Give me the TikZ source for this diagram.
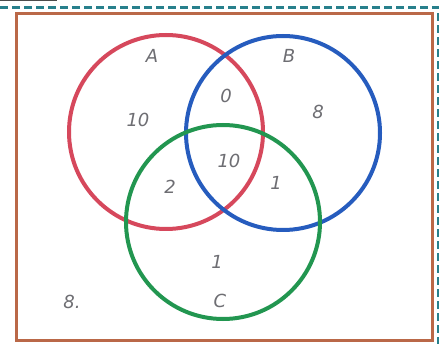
\documentclass[tikz,border=0pt]{standalone}
\usepackage{fontspec}
\setmainfont{DejaVu Sans}
\definecolor{cRed}{RGB}{214,72,92}
\definecolor{cBlue}{RGB}{38,92,190}
\definecolor{cGreen}{RGB}{34,150,80}
\definecolor{cBrown}{RGB}{186,104,72}
\definecolor{cTeal}{RGB}{40,128,140}
\definecolor{cText}{RGB}{110,110,115}
\begin{document}
\begin{tikzpicture}[x=1pt,y=-1pt,
  ring/.style={line width=4pt},
  lbl/.style={text=cText,font=\itshape\fontsize{18}{18}\selectfont,inner sep=0pt}]
\useasboundingbox (0,0) rectangle (444,344);
\fill[white] (0,0) rectangle (444,344);
\draw[black!70,line width=1.5pt] (0,0.5) -- (57,0.5);
\draw[cTeal,line width=2.5pt,dash pattern=on 8pt off 4pt] (0,7.5) -- (438,7.5) -- (438,344);
\draw[cBrown,line width=3pt] (16.5,14) rectangle (432.5,340.5);
\draw[ring,cRed] (166,132) circle (97);
\draw[ring,cBlue] (283,133) circle (97);
\draw[ring,cGreen] (223,222) circle (97);
\node[lbl] (lA) at (152,56) {A};
\node[lbl] (lB) at (289,56) {B};
\node[lbl] (nA) at (138,120) {10};
\node[lbl] (nAB) at (226,96) {0};
\node[lbl] (nB) at (318,112) {8};
\node[lbl] (nABC) at (229,161) {10};
\node[lbl] (nAC) at (170,187) {2};
\node[lbl] (nBC) at (276,183) {1};
\node[lbl] (nC) at (217,262) {1};
\node[lbl] (lC) at (220,301) {C};
\node[lbl] (nU) at (72,302) {8.};
\end{tikzpicture}
\end{document}
